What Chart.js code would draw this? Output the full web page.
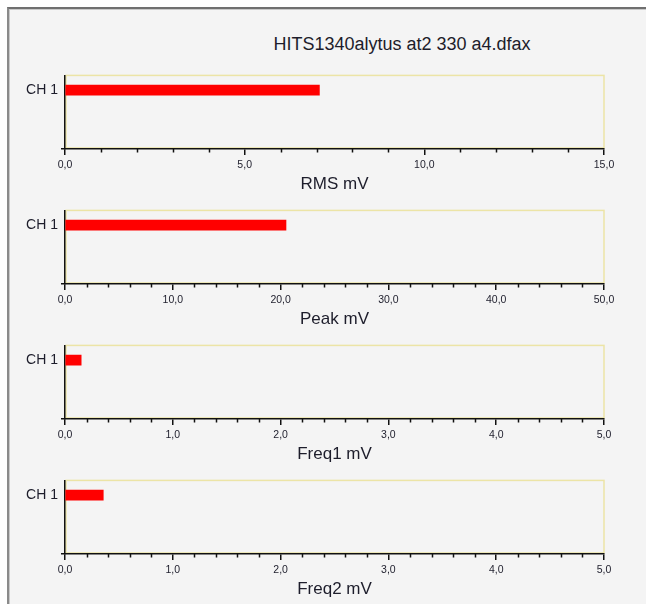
<!DOCTYPE html>
<html>
<head>
<meta charset="utf-8">
<script src="https://cdn.jsdelivr.net/npm/chart.js@4.4.1/dist/chart.umd.min.js"></script>
<style>
    html, body { margin: 0; padding: 0; background: #ffffff; }
    #page { position: relative; width: 646px; height: 604px; overflow: hidden; }
    #frame {
        position: absolute; left: 7px; top: 7px; width: 700px; height: 700px;
        background: #f4f4f4;
        border-left: 2px solid #8a8a8a; border-top: 2px solid #6f6f6f;
        box-shadow: inset 1px 1px 0 #c8c8c8;
    }
    #title {
        position: absolute; left: 0; top: 34px; width: 804px; text-align: center;
        font: 18px 'Liberation Sans', Arial, sans-serif; line-height: 20px; color: #1d1d2b;
    }
    canvas { position: absolute; left: 0; }
</style>
</head>
<body>
<div id="page">
    <div id="frame"></div>
    <div id="title">HITS1340alytus at2 330 a4.dfax</div>
    <canvas id="c0" width="646" height="135" style="top:64px"></canvas>
    <canvas id="c1" width="646" height="135" style="top:199px"></canvas>
    <canvas id="c2" width="646" height="135" style="top:334px"></canvas>
    <canvas id="c3" width="646" height="135" style="top:469px"></canvas>
</div>
<script>
// Data
const channels = ['CH 1'];
const rmsValues = [7.08];
const peakValues = [20.5];
const freq1Values = [0.15];
const freq2Values = [0.355];
const axisTitles = ['RMS mV', 'Peak mV', 'Freq1 mV', 'Freq2 mV'];
const axisMax = [15, 50, 5, 5];
const axisStep = [5, 10, 1, 1];
const minorPerStep = 5;

const panelValues = [rmsValues, peakValues, freq1Values, freq2Values];

Chart.defaults.font.family = "'Liberation Sans', Arial, sans-serif";
Chart.defaults.color = '#1d1d2b';

// yellow plot frame behind the black axes
const plotFrame = {
    id: 'plotFrame',
    beforeDraw(chart) {
        const { ctx, chartArea: a } = chart;
        ctx.save();
        ctx.strokeStyle = '#ece4a6';
        ctx.lineWidth = 1.5;
        ctx.strokeRect(a.left + 1, a.top, a.right - a.left - 1, a.bottom - a.top - 1);
        ctx.restore();
    },
    // short minor ticks between the labelled ones
    afterDraw(chart) {
        const { ctx, chartArea: a } = chart;
        const x = chart.scales.x;
        const step = chart.options.scales.x.ticks.stepSize / minorPerStep;
        ctx.save();
        ctx.strokeStyle = '#111';
        ctx.lineWidth = 1.5;
        ctx.beginPath();
        const n = Math.round((x.max - x.min) / step);
        for (let i = 1; i < n; i++) {
            if (i % minorPerStep === 0) continue;
            const px = Math.round(x.getPixelForValue(x.min + i * step)) + 0.5;
            ctx.moveTo(px, a.bottom);
            ctx.lineTo(px, a.bottom + 3.5);
        }
        ctx.stroke();
        ctx.restore();
    }
};

function makePanel(idx) {
    const values = panelValues[idx];
    new Chart(document.getElementById('c' + idx), {
        type: 'bar',
        data: {
            datasets: [{
                data: values.map((v, i) => ({ x: v, y: i + 1 })),
                backgroundColor: '#ff0000',
                borderWidth: 0,
                barThickness: 10
            }]
        },
        options: {
            indexAxis: 'y',
            responsive: false,
            animation: false,
            layout: { padding: { top: 10, right: 42, left: 0, bottom: 0 } },
            plugins: { legend: { display: false }, tooltip: { enabled: false } },
            scales: {
                x: {
                    type: 'linear',
                    min: 0,
                    max: axisMax[idx],
                    afterFit: s => { s.height = 50; },
                    ticks: {
                        stepSize: axisStep[idx],
                        padding: 4,
                        font: { size: 10.5 },
                        color: '#1d1d2b',
                        maxRotation: 0,
                        callback: v => v.toFixed(1).replace('.', ',')
                    },
                    grid: { drawOnChartArea: false, drawTicks: true, tickLength: 6, color: '#111', lineWidth: 1.5 },
                    border: { color: '#111', width: 1.5 },
                    title: {
                        display: true,
                        text: axisTitles[idx],
                        font: { size: 17 },
                        color: '#1d1d2b',
                        padding: { top: 0, bottom: 4 }
                    }
                },
                y: {
                    type: 'linear',
                    min: 0,
                    max: 5,
                    reverse: true,
                    offset: false,
                    afterFit: s => { s.width = 65; },
                    afterBuildTicks: s => { s.ticks = channels.map((c, i) => ({ value: i + 1 })); },
                    ticks: {
                        padding: 3,
                        font: { size: 14 },
                        color: '#1d1d2b',
                        callback: v => channels[v - 1]
                    },
                    grid: { drawOnChartArea: false, drawTicks: true, tickLength: 4, color: '#111', lineWidth: 1.5 },
                    border: { color: '#111', width: 1.5 }
                }
            }
        },
        plugins: [plotFrame]
    });
}

for (let i = 0; i < panelValues.length; i++) makePanel(i);
</script>
</body>
</html>
